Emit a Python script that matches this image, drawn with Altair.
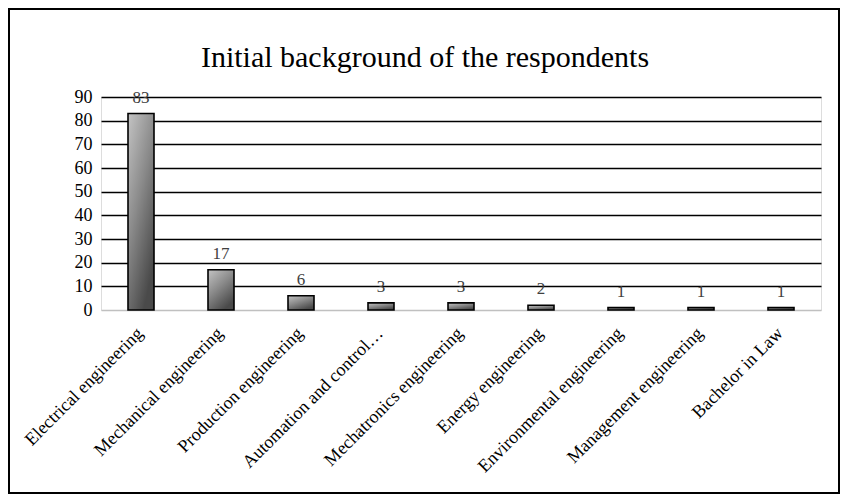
import altair as alt
import pandas as pd

categories = ["Electrical engineering", "Mechanical engineering", "Production engineering",
              "Automation and control…", "Mechatronics engineering", "Energy engineering",
              "Environmental engineering", "Management engineering", "Bachelor in Law"]
counts = [83, 17, 6, 3, 3, 2, 1, 1, 1]
title_text = "Initial background of the respondents"
y_ticks = list(range(0, 100, 10))

df = pd.DataFrame({"cat": categories, "n": counts})

W, H = 720, 213
FONT = "Liberation Serif"

x_enc = alt.X("cat:N", sort=categories, title=None,
              scale=alt.Scale(paddingInner=0, paddingOuter=0),
              axis=alt.Axis(labelAngle=-45, labelAlign="right", labelBaseline="top",
                            labelFont=FONT, labelFontSize=18, labelColor="black",
                            labelPadding=14, labelOffset=-7, ticks=False, domain=False,
                            labelLimit=300, labelOverlap=False))
y_enc = alt.Y("n:Q", title=None,
              scale=alt.Scale(domain=[0, 90], nice=False),
              axis=alt.Axis(values=y_ticks, tickCount=10, labelOverlap=False,
                            labelFont=FONT, labelFontSize=18, labelColor="black",
                            labelPadding=9, ticks=False, domain=False,
                            gridColor={"condition": {"test": "datum.value === 0", "value": "#c0c0c0"},
                                       "value": "black"},
                            gridWidth=1.3, gridOpacity=1))

grad = alt.Gradient(gradient="linear",
                    stops=[alt.GradientStop(color="#c4c4c4", offset=0),
                           alt.GradientStop(color="#8a8a8a", offset=0.5),
                           alt.GradientStop(color="#4a4a4a", offset=1)],
                    x1=0, y1=0, x2=0.6, y2=1)

bars = alt.Chart(df).mark_bar(size=26, fill=grad, stroke="black", strokeWidth=1.6).encode(
    x=x_enc, y=y_enc)

labels = alt.Chart(df).mark_text(font=FONT, fontSize=17, color="#404040",
                                 baseline="bottom", dy=-7).encode(
    x=alt.X("cat:N", sort=categories), y="n:Q", text="n:Q")

title = alt.Chart(pd.DataFrame({"t": [title_text]})).mark_text(
    font=FONT, fontSize=30, color="black", align="center", baseline="middle").encode(
    x=alt.value(324), y=alt.value(-39), text="t:N")

border = alt.Chart(pd.DataFrame({"a": [0]})).mark_rect(
    fill=None, stroke="black", strokeWidth=2).encode(
    x=alt.value(-92), x2=alt.value(W + 18), y=alt.value(-88), y2=alt.value(H + 183))

chart = alt.layer(bars, labels, title, border).properties(
    width=W, height=H,
    autosize=alt.AutoSizeParams(type="none"),
    padding={"left": 93, "top": 89, "right": 19, "bottom": 185},
).configure_view(stroke="transparent", strokeWidth=0).configure(background="white")

chart.save("out.html", embed_options={"renderer": "svg", "actions": False})
